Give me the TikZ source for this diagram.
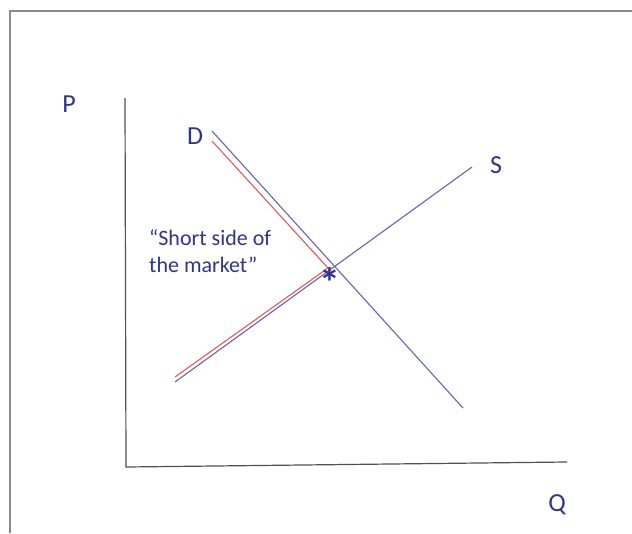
\documentclass[tikz,border=0pt]{standalone}
\usepackage{fontspec}
\setmainfont{Carlito}
\definecolor{txtblue}{HTML}{33338F}
\definecolor{lineblue}{HTML}{6464B4}
\definecolor{linered}{HTML}{E05A5A}
\definecolor{framegray}{HTML}{8A8A8A}
\definecolor{axisgray}{HTML}{505050}
\tikzset{
  lbl/.style={text=txtblue, font=\fontsize{26}{28}\selectfont, inner sep=0pt},
  note/.style={text=txtblue, font=\fontsize{22}{27}\selectfont, inner sep=0pt, align=left},
  curve/.style={draw=lineblue, line width=1.1pt},
  redcurve/.style={draw=linered, line width=1.1pt},
  axis/.style={draw=axisgray, line width=1.2pt},
}
\begin{document}
\begin{tikzpicture}[x=1pt,y=-1pt]
\useasboundingbox (0,0) rectangle (632,533);
% frame
\draw[framegray, line width=1.6pt] (10,533) -- (10,11) -- (632,11);
% axes
\coordinate (ytop) at (125,98);
\coordinate (origin) at (126,467);
\coordinate (xend) at (567,462);
\draw[axis] (ytop) -- (origin) -- (xend);
% labels
\node[lbl] (P) at (69,104) {P};
\node[lbl] (Q) at (557,505) {Q};
\node[lbl] (D) at (195,136) {D};
\node[lbl] (S) at (496,165) {S};
% demand and supply
\coordinate (d1) at (212,131);
\coordinate (d2) at (463,408);
\coordinate (s1) at (175,382);
\coordinate (s2) at (472,167);
\draw[curve] (d1) -- (d2);
\draw[curve] (s1) -- (s2);
% short side (red)
\coordinate (r1) at (212,141);
\coordinate (rc) at (328,268);
\coordinate (r2) at (175,377);
\draw[redcurve, line join=miter] (r1) -- (rc) -- (r2);
% equilibrium star
\node[text=txtblue, font=\fontsize{42}{42}\selectfont\bfseries, inner sep=0pt] (star) at (330,282) {*};
% note
\node[note, anchor=north west] (note) at (149,229) {“Short side of\\the market”};
\end{tikzpicture}
\end{document}
